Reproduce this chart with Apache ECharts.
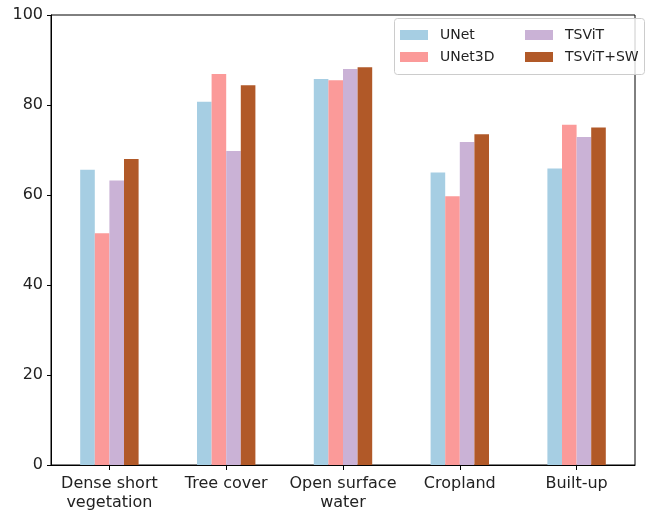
<!DOCTYPE html>
<html>
<head>
<meta charset="utf-8">
<script src="https://cdn.jsdelivr.net/npm/echarts@6/dist/echarts.min.js"></script>
<style>
  html, body { margin: 0; padding: 0; background: #fff; }
  #main { width: 649px; height: 514px; }
</style>
</head>
<body>
<div id="main"></div>
<script>
const categories = ['Dense short\nvegetation', 'Tree cover', 'Open surface\nwater', 'Cropland', 'Built-up'];
const seriesNames = ['UNet', 'UNet3D', 'TSViT', 'TSViT+SW'];
const unet = [65.6, 80.7, 85.8, 65.0, 65.9];
const unet3d = [51.5, 86.9, 85.5, 59.7, 75.6];
const tsvit = [63.2, 69.8, 88.0, 71.8, 72.9];
const tsvitSw = [68.0, 84.4, 88.4, 73.5, 75.0];
const colors = ['#a6cee3', '#fb9a99', '#cab2d6', '#b15928'];

const myChart = echarts.init(document.getElementById('main'));
const font = 'DejaVu Sans';
const allValues = [unet, unet3d, tsvit, tsvitSw];

const mySeries = seriesNames.map(function (name, i) {
  return {
    name: name,
    type: 'bar',
    barWidth: '12.5%',
    barGap: '0%',
    itemStyle: { color: colors[i] },
    data: allValues[i]
  };
});

// one legend per entry, laid out in 2 columns like the reference
const legendPos = [[400, 28], [400, 50], [525, 28], [525, 50]];
const myLegends = seriesNames.map(function (name, i) {
  return {
    data: [name],
    left: legendPos[i][0],
    top: legendPos[i][1],
    padding: 0,
    icon: 'rect',
    itemWidth: 28,
    itemHeight: 10,
    itemStyle: { borderWidth: 0 },
    textStyle: { fontFamily: font, fontSize: 14, color: '#222', padding: [0, 0, 0, 7] },
    selectedMode: false
  };
});

myChart.setOption({
  animation: false,
  textStyle: { fontFamily: font },
  grid: {
    left: 51,
    right: 14,
    top: 15,
    bottom: 49,
    show: true,
    borderColor: '#000',
    borderWidth: 1
  },
  legend: myLegends,
  graphic: [{
    type: 'rect',
    shape: { x: 394.5, y: 18.5, width: 250, height: 56, r: 3 },
    style: { fill: 'rgba(255,255,255,0.8)', stroke: '#cccccc', lineWidth: 1 },
    z: 3
  }],
  xAxis: [{
    type: 'category',
    data: categories,
    axisLine: { show: true, onZero: false, lineStyle: { color: '#000' } },
    axisTick: { show: true, alignWithLabel: true, interval: 0, length: 5, lineStyle: { color: '#000', width: 1 } },
    axisLabel: { interval: 0, fontFamily: font, fontSize: 16, color: '#222', margin: 9, lineHeight: 19 }
  }, {
    // tick-only copy of the category axis
    type: 'category',
    position: 'bottom',
    data: categories,
    axisLine: { show: false, onZero: false },
    axisLabel: { show: false },
    axisTick: { show: true, alignWithLabel: true, interval: 0, length: 5, lineStyle: { color: '#000', width: 1 } }
  }],
  yAxis: {
    type: 'value',
    min: 0,
    max: 100,
    interval: 20,
    splitLine: { show: false },
    axisLine: { show: true, lineStyle: { color: '#000' } },
    axisTick: { show: true, length: 4, lineStyle: { color: '#000' } },
    axisLabel: { fontFamily: font, fontSize: 16, color: '#222', margin: 8 }
  },
  series: mySeries
});
</script>
</body>
</html>
